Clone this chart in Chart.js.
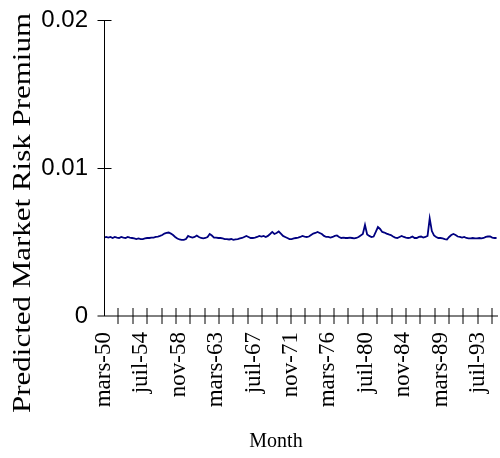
<!DOCTYPE html>
<html>
<head>
<meta charset="utf-8">
<script src="https://cdn.jsdelivr.net/npm/chart.js@4/dist/chart.umd.min.js"></script>
<style>
  html, body { margin: 0; padding: 0; background: #fff; }
  #wrap { width: 500px; height: 458px; }
</style>
</head>
<body>
<div id="wrap"><canvas id="myChart" width="500" height="458"></canvas></div>
<script>
// quarterly readings of the predicted premium, starting mars-50
var premium = [
  0.00530, 0.00534, 0.00530, 0.00534, 0.00527, 0.00534, 0.00530, 0.00527, 0.00534, 0.00530,
  0.00527, 0.00534, 0.00530, 0.00527, 0.00524, 0.00520, 0.00524, 0.00520, 0.00520, 0.00524,
  0.00527, 0.00527, 0.00530, 0.00530, 0.00534, 0.00537, 0.00541, 0.00547, 0.00557, 0.00561,
  0.00564, 0.00557, 0.00547, 0.00534, 0.00524, 0.00517, 0.00514, 0.00514, 0.00520, 0.00541,
  0.00534, 0.00530, 0.00534, 0.00544, 0.00534, 0.00527, 0.00524, 0.00527, 0.00534, 0.00554,
  0.00544, 0.00530, 0.00530, 0.00527, 0.00527, 0.00524, 0.00520, 0.00520, 0.00517, 0.00520,
  0.00514, 0.00517, 0.00520, 0.00524, 0.00527, 0.00534, 0.00541, 0.00534, 0.00527, 0.00527,
  0.00530, 0.00534, 0.00541, 0.00537, 0.00541, 0.00534, 0.00541, 0.00554, 0.00568, 0.00554,
  0.00561, 0.00571, 0.00557, 0.00541, 0.00534, 0.00527, 0.00520, 0.00520, 0.00524, 0.00527,
  0.00530, 0.00534, 0.00541, 0.00537, 0.00534, 0.00537, 0.00547, 0.00557, 0.00561, 0.00568,
  0.00561, 0.00554, 0.00541, 0.00534, 0.00534, 0.00530, 0.00534, 0.00541, 0.00544, 0.00534,
  0.00527, 0.00530, 0.00527, 0.00527, 0.00530, 0.00527, 0.00524, 0.00527, 0.00534, 0.00544,
  0.00554, 0.00615, 0.00551, 0.00541, 0.00534, 0.00537, 0.00568, 0.00601, 0.00588, 0.00568,
  0.00564, 0.00557, 0.00551, 0.00547, 0.00537, 0.00530, 0.00527, 0.00534, 0.00541, 0.00534,
  0.00530, 0.00527, 0.00530, 0.00537, 0.00527, 0.00527, 0.00534, 0.00537, 0.00530, 0.00534,
  0.00541, 0.00659, 0.00574, 0.00544, 0.00534, 0.00527, 0.00527, 0.00524, 0.00520, 0.00517,
  0.00534, 0.00547, 0.00554, 0.00547, 0.00537, 0.00534, 0.00530, 0.00534, 0.00527, 0.00524,
  0.00524, 0.00527, 0.00524, 0.00524, 0.00527, 0.00524, 0.00527, 0.00534, 0.00537, 0.00537,
  0.00530, 0.00527, 0.00527
];
var stepMonths = 3;      // months between readings
var lastMonth = 548;     // end of the axis, in months after mars-50

var tickLabels = ['mars-50', 'juil-54', 'nov-58', 'mars-63', 'juil-67', 'nov-71',
                  'mars-76', 'juil-80', 'nov-84', 'mars-89', 'juil-93'];
var labelEvery = 52;     // months between labels
var markEvery = 20;      // months between tick marks
var yTicks = [0, 0.01, 0.02];

var yTitle = 'Predicted Market Risk Premium';
var xTitle = 'Month';

var serif = "'Liberation Serif', 'Times New Roman', serif";
var sans = "'Liberation Sans', Arial, sans-serif";

// axis lines, crossing tick marks and the two titles, Excel style
var excelAxes = {
    id: 'excelAxes',
    afterDraw: function (chart) {
        var ctx = chart.ctx;
        var x = chart.scales.x, y = chart.scales.y;
        var left = Math.round(x.getPixelForValue(0)) + 0.5;
        var bottom = Math.round(y.getPixelForValue(0));
        ctx.save();
        ctx.strokeStyle = '#000';
        ctx.lineWidth = 1;
        ctx.beginPath();
        ctx.moveTo(left, y.getPixelForValue(yTicks[yTicks.length - 1]));
        ctx.lineTo(left, bottom);
        yTicks.forEach(function (v) {
            if (v === 0) return;
            var py = Math.round(y.getPixelForValue(v)) + 0.5;
            ctx.moveTo(left - 7, py);
            ctx.lineTo(left + 7, py);
        });
        ctx.moveTo(left - 7, bottom);
        ctx.lineTo(x.right, bottom);
        for (var m = markEvery; m <= lastMonth; m += markEvery) {
            var px = Math.round(x.getPixelForValue(m));
            ctx.moveTo(px, bottom - 8);
            ctx.lineTo(px, bottom + 8);
        }
        ctx.stroke();

        ctx.fillStyle = '#000';
        ctx.textAlign = 'center';
        ctx.textBaseline = 'middle';
        ctx.font = '26px ' + serif;
        ctx.save();
        ctx.translate(23, 213);
        ctx.rotate(-Math.PI / 2);
        var w = ctx.measureText(yTitle).width;
        ctx.scale(400 / w, 1);
        ctx.fillText(yTitle, 0, 0);
        ctx.restore();

        ctx.font = '20px ' + serif;
        ctx.textBaseline = 'alphabetic';
        ctx.fillText(xTitle, 276, 447);
        ctx.restore();
    }
};

var ctx = document.getElementById('myChart').getContext('2d');

var chart = new Chart(ctx, {
    type: 'line',
    data: {
        datasets: [{
            data: premium.map(function (v, i) { return { x: i * stepMonths, y: v }; }),
            borderColor: '#000080',
            borderWidth: 1.8,
            pointRadius: 0,
            tension: 0,
            fill: false
        }]
    },
    options: {
        responsive: false,
        animation: false,
        layout: { autoPadding: false, padding: { top: 20, right: 2, left: 0, bottom: 0 } },
        plugins: {
            legend: { display: false },
            tooltip: { enabled: false }
        },
        scales: {
            x: {
                type: 'linear',
                min: 0,
                max: lastMonth,
                grid: { display: false, drawTicks: false },
                border: { display: false },
                afterBuildTicks: function (scale) {
                    scale.ticks = tickLabels.map(function (t, i) { return { value: i * labelEvery }; });
                },
                afterFit: function (scale) {
                    scale.height = 142;
                    scale.paddingLeft = 0;
                    scale.paddingRight = 0;
                },
                ticks: {
                    autoSkip: false,
                    minRotation: 90,
                    maxRotation: 90,
                    padding: 16,
                    color: '#000',
                    font: { family: serif, size: 23 },
                    callback: function (value) { return tickLabels[Math.round(value / labelEvery)]; }
                }
            },
            y: {
                min: 0,
                max: 0.02,
                grid: { display: false, drawTicks: false },
                border: { display: false },
                afterBuildTicks: function (scale) {
                    scale.ticks = yTicks.map(function (v) { return { value: v }; });
                },
                afterFit: function (scale) {
                    scale.width = 104;
                    scale.paddingTop = 0;
                    scale.paddingBottom = 0;
                },
                ticks: {
                    padding: 16,
                    color: '#000',
                    font: { family: sans, size: 24 },
                    callback: function (value) { return String(value); }
                }
            }
        }
    },
    plugins: [excelAxes]
});
</script>
</body>
</html>
